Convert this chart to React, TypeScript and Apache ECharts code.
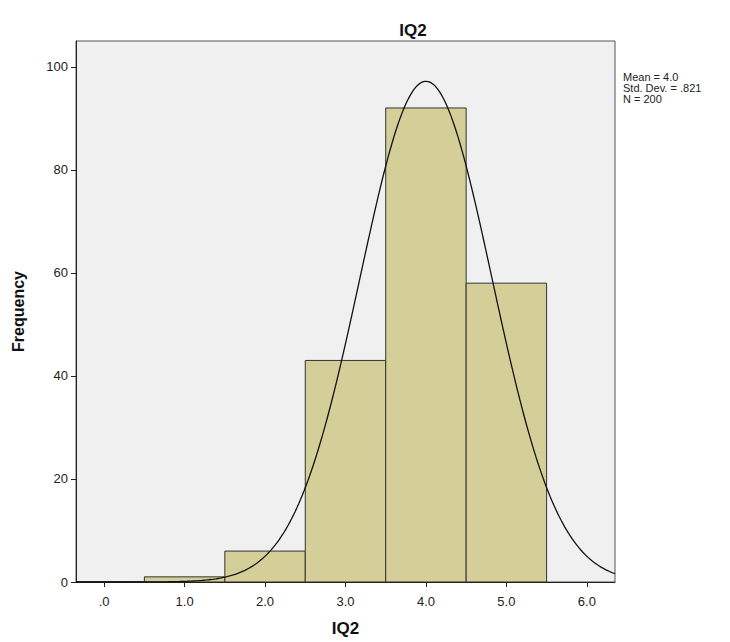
import React, { useEffect, useRef } from "react";
import * as echarts from "echarts";

const binStarts = [-0.5, 0.5, 1.5, 2.5, 3.5, 4.5];
const binEnds = [0.5, 1.5, 2.5, 3.5, 4.5, 5.5];
const frequencies = [0, 1, 6, 43, 92, 58];
const xTicks = [0, 1, 2, 3, 4, 5, 6];
const yTicks = [0, 20, 40, 60, 80, 100];
const mean = 4.0;
const stdDev = 0.821;
const n = 200;
const statLines = ["Mean = 4.0", "Std. Dev. = .821", "N = 200"];

const FONT = "'Liberation Sans Narrow', 'Liberation Sans', Arial, sans-serif";

export default function App() {
  const ref = useRef<HTMLDivElement>(null);
  useEffect(() => {
    if (!ref.current) return;
    const chart = echarts.init(ref.current, undefined, { renderer: "svg" });
    const xmin = -0.35;
    const xmax = 6.35;
    const curve: number[][] = [];
    const steps = 300;
    for (let i = 0; i <= steps; i++) {
      const x = xmin + ((xmax - xmin) * i) / steps;
      const z = (x - mean) / stdDev;
      const y = (n * 1 * Math.exp(-0.5 * z * z)) / (stdDev * Math.sqrt(2 * Math.PI));
      curve.push([x, y]);
    }
    const barData = frequencies.map((f, i) => [binStarts[i], binEnds[i], f]);
    chart.setOption({
      animation: false,
      backgroundColor: "#ffffff",
      title: {
        text: "IQ2",
        left: 408,
        top: 17,
        textAlign: "center",
        textStyle: { fontFamily: FONT, fontSize: 17, fontWeight: "bold", color: "#111" },
      },
      grid: {
        left: 76,
        right: 115,
        top: 41,
        bottom: 60,
        show: true,
        outerBoundsMode: "none",
        containLabel: false,
        backgroundColor: "#f0f0f0",
        borderColor: "#555",
        borderWidth: 1,
      },
      xAxis: {
        type: "value",
        min: xmin,
        max: xmax,
        name: "IQ2",
        nameLocation: "middle",
        nameGap: 38,
        nameTextStyle: { fontFamily: FONT, fontSize: 17, fontWeight: "bold", color: "#111" },
        axisLine: { show: true, onZero: false, lineStyle: { color: "#222", width: 1 } },
        axisTick: { show: true, length: 5, customValues: xTicks, lineStyle: { color: "#222" } },
        axisLabel: {
          customValues: xTicks,
          fontFamily: FONT,
          fontSize: 13,
          color: "#222",
          margin: 13,
          formatter: (v: number) => (v === 0 ? ".0" : v.toFixed(1)),
        },
        splitLine: { show: false },
      },
      yAxis: {
        type: "value",
        min: 0,
        max: 105,
        name: "Frequency",
        nameLocation: "middle",
        nameGap: 50,
        nameRotate: 90,
        nameTextStyle: { fontFamily: FONT, fontSize: 16, fontWeight: "bold", color: "#111" },
        axisLine: { show: true, onZero: false, lineStyle: { color: "#222", width: 1 } },
        axisTick: { show: true, length: 5, customValues: yTicks, lineStyle: { color: "#222" } },
        axisLabel: {
          customValues: yTicks,
          fontFamily: FONT,
          fontSize: 13,
          color: "#222",
          margin: 8,
        },
        splitLine: { show: false },
      },
      graphic: statLines.map((t, i) => ({
        type: "text",
        left: 623,
        top: 71 + i * 11,
        style: {
          text: t,
          fontFamily: FONT,
          fontSize: 11,
          lineHeight: 11,
          fill: "#222",
        },
      })),
      series: [
        {
          type: "custom",
          clip: true,
          data: barData,
          encode: { x: [0, 1], y: 2 },
          renderItem: (params: any, api: any) => {
            const p0 = api.coord([api.value(0), api.value(2)]);
            const p1 = api.coord([api.value(1), 0]);
            const shape = echarts.graphic.clipRectByRect(
              { x: p0[0], y: p0[1], width: p1[0] - p0[0], height: p1[1] - p0[1] },
              {
                x: params.coordSys.x,
                y: params.coordSys.y,
                width: params.coordSys.width,
                height: params.coordSys.height,
              }
            );
            if (!shape) return null;
            return {
              type: "rect",
              shape,
              style: { fill: "#d4cf98", stroke: "#333", lineWidth: 1 },
            };
          },
        },
        {
          type: "line",
          data: curve,
          showSymbol: false,
          symbol: "none",
          clip: true,
          lineStyle: { color: "#111", width: 1.3 },
          z: 5,
        },
      ],
    });
    return () => chart.dispose();
  }, []);
  return (
    <div
      ref={ref}
      style={{ position: "fixed", left: 0, top: 0, width: 730, height: 642 }}
    />
  );
}
